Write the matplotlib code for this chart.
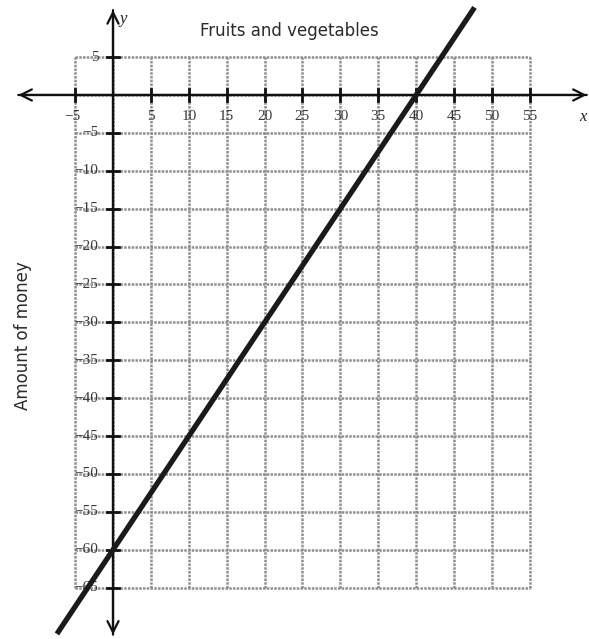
import numpy as np
import matplotlib
matplotlib.use("Agg")
import matplotlib.pyplot as plt

# grid ticks
x_ticks = [-5, 5, 10, 15, 20, 25, 30, 35, 40, 45, 50, 55]
y_ticks = [5, -5, -10, -15, -20, -25, -30, -35, -40, -45, -50, -55, -60, -65]
grid_x = [-5, 0, 5, 10, 15, 20, 25, 30, 35, 40, 45, 50, 55]
grid_y = [5, 0, -5, -10, -15, -20, -25, -30, -35, -40, -45, -50, -55, -60, -65]

# the line: through (0, -60) and (40, 0)
line_x = [-7.4, 47.7]
slope = 1.5
intercept = -60

title = "Fruits and vegetables"
ylab = "Amount of money"

fig = plt.figure(figsize=(5.89, 6.39), dpi=100)
ax = fig.add_axes([0, 0, 1, 1])
ax.set_xlim(-14.91, 62.80)
ax.set_ylim(-71.77, 12.53)
ax.axis("off")

gray = "#8f8f8f"
dash = (0, (1.0, 0.5))
for gx in grid_x:
    ax.plot([gx, gx], [min(grid_y), max(grid_y)], color=gray, lw=1.8, ls=dash, zorder=1)
for gy in grid_y:
    ax.plot([min(grid_x), max(grid_x)], [gy, gy], color=gray, lw=1.8, ls=dash, zorder=1)

# axes with arrows (both ends)
arrow = dict(arrowstyle="->", lw=1.6, color="#111111",
             mutation_scale=20, shrinkA=0, shrinkB=0)
ax.annotate("", xy=(-12.5, 0), xytext=(62.5, 0), arrowprops=arrow, zorder=3)
ax.annotate("", xy=(62.5, 0), xytext=(-12.5, 0), arrowprops=arrow, zorder=3)
ax.annotate("", xy=(0, 11.2), xytext=(0, -71.2), arrowprops=arrow, zorder=3)
ax.annotate("", xy=(0, -71.2), xytext=(0, 11.2), arrowprops=arrow, zorder=3)

# tick marks
for t in x_ticks:
    ax.plot([t, t], [-0.85, 0.85], color="#111111", lw=2.0, zorder=3)
for t in y_ticks:
    ax.plot([-0.85, 0.85], [t, t], color="#111111", lw=2.0, zorder=3)

serif = "Liberation Serif"
lab_color = "#3a3a3a"
for t in x_ticks:
    if t < 0:
        ax.text(t + 0.75, -2.9, "\u2212" + str(-t), ha="right", va="center",
                fontsize=11, family=serif, color=lab_color, zorder=4)
    else:
        ax.text(t, -2.9, str(t), ha="center", va="center",
                fontsize=11, family=serif, color=lab_color, zorder=4)
for t in y_ticks:
    s = str(t) if t > 0 else "\u2212" + str(-t)
    ax.text(-1.9, t, s, ha="right", va="center",
            fontsize=11, family=serif, color=lab_color, zorder=4)

ax.text(62.0, -2.9, "x", ha="center", va="center", fontsize=12,
        family=serif, style="italic", color="#222222")
ax.text(1.3, 10.0, "y", ha="center", va="center", fontsize=12,
        family=serif, style="italic", color="#222222")

# the line
lx = np.array(line_x)
ax.plot(lx, slope * lx + intercept, color="#1a1a1a", lw=3.8,
        solid_capstyle="butt", zorder=5)

ax.text(23.3, 8.4, title, ha="center", va="center", fontsize=12,
        color="#2a2a2a", family="DejaVu Sans")
fig.text(23 / 589, 1 - 336 / 639, ylab, rotation=90, ha="center", va="center",
         fontsize=12, color="#2a2a2a", family="DejaVu Sans")

fig.savefig("out.png", dpi=100)
